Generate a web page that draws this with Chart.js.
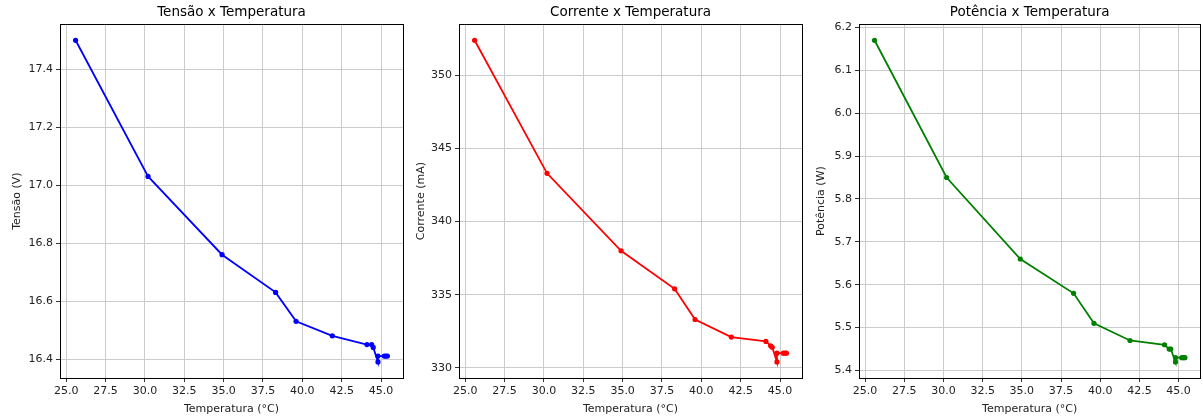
<!DOCTYPE html>
<html lang="pt-BR">
<head>
<meta charset="utf-8">
<title>Tensão, Corrente e Potência x Temperatura</title>
<script src="https://cdn.jsdelivr.net/npm/chart.js@4.4.1/dist/chart.umd.min.js"></script>
<style>
  body { margin: 0; background: #fff; }
  #figura { position: relative; width: 1203px; height: 419px; overflow: hidden; }
  #figura canvas { position: absolute; top: 0; }
</style>
</head>
<body>
<div id="figura">
  <canvas id="graficoTensao" width="410" height="419" style="left:0px"></canvas>
  <canvas id="graficoCorrente" width="400" height="419" style="left:410px"></canvas>
  <canvas id="graficoPotencia" width="393" height="419" style="left:810px"></canvas>
</div>
<script>
const temperatura = [25.6, 30.2, 34.9, 38.3, 39.6, 41.9, 44.1, 44.4, 44.5, 44.8, 44.8, 45.2, 45.3, 45.4];
const tensao = [17.50, 17.03, 16.76, 16.63, 16.53, 16.48, 16.45, 16.45, 16.44, 16.39, 16.41, 16.41, 16.41, 16.41];
const corrente = [352.4, 343.3, 338.0, 335.4, 333.3, 332.1, 331.8, 331.5, 331.4, 330.4, 331.0, 331.0, 331.0, 331.0];
const potencia = [6.17, 5.85, 5.66, 5.58, 5.51, 5.47, 5.46, 5.45, 5.45, 5.42, 5.43, 5.43, 5.43, 5.43];

const ticksTemperatura = [25.0, 27.5, 30.0, 32.5, 35.0, 37.5, 40.0, 42.5, 45.0];
const ticksTensao = [16.4, 16.6, 16.8, 17.0, 17.2, 17.4];
const ticksCorrente = [330, 335, 340, 345, 350];
const ticksPotencia = [5.4, 5.5, 5.6, 5.7, 5.8, 5.9, 6.0, 6.1, 6.2];

const fonte = 'DejaVu Sans, sans-serif';

// margem de 5% igual ao autoscale do matplotlib
function limites(valores) {
    const min = Math.min(...valores);
    const max = Math.max(...valores);
    const m = (max - min) * 0.05;
    return { min: min - m, max: max + m };
}

// moldura completa em volta da area do grafico + titulo centrado sobre ela
const moldura = {
    id: 'moldura',
    afterLayout(chart) {
        if (chart.titleBlock) {
            chart.titleBlock.left = chart.chartArea.left;
            chart.titleBlock.right = chart.chartArea.right;
        }
    },
    afterDraw(chart) {
        const { ctx, chartArea: a } = chart;
        ctx.save();
        ctx.strokeStyle = '#000';
        ctx.lineWidth = 1;
        ctx.strokeRect(Math.round(a.left) + 0.5, Math.round(a.top) + 0.5,
            Math.round(a.right) - Math.round(a.left), Math.round(a.bottom) - Math.round(a.top));
        ctx.restore();
    }
};

function criarGrafico(id, titulo, rotuloY, valores, ticksY, casasY, cor, larguraEixoY, padRotuloY, padDireita) {
    const limX = limites(temperatura);
    const limY = limites(valores);
    const ctx = document.getElementById(id).getContext('2d');
    return new Chart(ctx, {
        type: 'line',
        data: {
            datasets: [{
                data: temperatura.map((t, i) => ({ x: t, y: valores[i] })),
                borderColor: cor,
                backgroundColor: cor,
                borderWidth: 1.8,
                pointRadius: 2.6,
                pointHoverRadius: 2.6,
                pointBorderWidth: 0,
                tension: 0,
                fill: false
            }]
        },
        options: {
            responsive: false,
            animation: false,
            devicePixelRatio: 1,
            layout: { padding: { left: 0, right: padDireita, top: 0, bottom: 0 } },
            plugins: {
                legend: { display: false },
                tooltip: { enabled: false },
                title: {
                    display: true,
                    text: titulo,
                    color: '#000',
                    font: { family: fonte, size: 13.5, weight: 'normal', lineHeight: 1.2 },
                    padding: { top: 4, bottom: 4 }
                }
            },
            scales: {
                x: {
                    type: 'linear',
                    min: limX.min,
                    max: limX.max,
                    afterBuildTicks: scale => { scale.ticks = ticksTemperatura.map(v => ({ value: v })); },
                    afterFit: scale => { scale.height = 41; },
                    ticks: {
                        color: '#222',
                        font: { family: fonte, size: 11 },
                        padding: 3,
                        maxRotation: 0,
                        callback: v => Number(v).toFixed(1)
                    },
                    grid: { color: '#cccccc', lineWidth: 1, tickLength: 4, tickColor: '#333' },
                    border: { display: false },
                    title: {
                        display: true,
                        text: 'Temperatura (°C)',
                        color: '#222',
                        font: { family: fonte, size: 11 },
                        padding: { top: 0, bottom: 3 }
                    }
                },
                y: {
                    type: 'linear',
                    min: limY.min,
                    max: limY.max,
                    afterBuildTicks: scale => { scale.ticks = ticksY.map(v => ({ value: v })); },
                    afterFit: scale => { scale.width = larguraEixoY; },
                    ticks: {
                        color: '#222',
                        font: { family: fonte, size: 11 },
                        padding: 3,
                        callback: v => Number(v).toFixed(casasY)
                    },
                    grid: { color: '#cccccc', lineWidth: 1, tickLength: 4, tickColor: '#333' },
                    border: { display: false },
                    title: {
                        display: true,
                        text: rotuloY,
                        color: '#222',
                        font: { family: fonte, size: 11 },
                        padding: { top: padRotuloY, bottom: 0 }
                    }
                }
            }
        },
        plugins: [moldura]
    });
}

criarGrafico('graficoTensao', 'Tensão x Temperatura', 'Tensão (V)', tensao, ticksTensao, 1, '#0000ff', 60, 11, 7);
criarGrafico('graficoCorrente', 'Corrente x Temperatura', 'Corrente (mA)', corrente, ticksCorrente, 0, '#ff0000', 49, 5, 8);
criarGrafico('graficoPotencia', 'Potência x Temperatura', 'Potência (W)', potencia, ticksPotencia, 1, '#008000', 49, 5, 1);
</script>
</body>
</html>
